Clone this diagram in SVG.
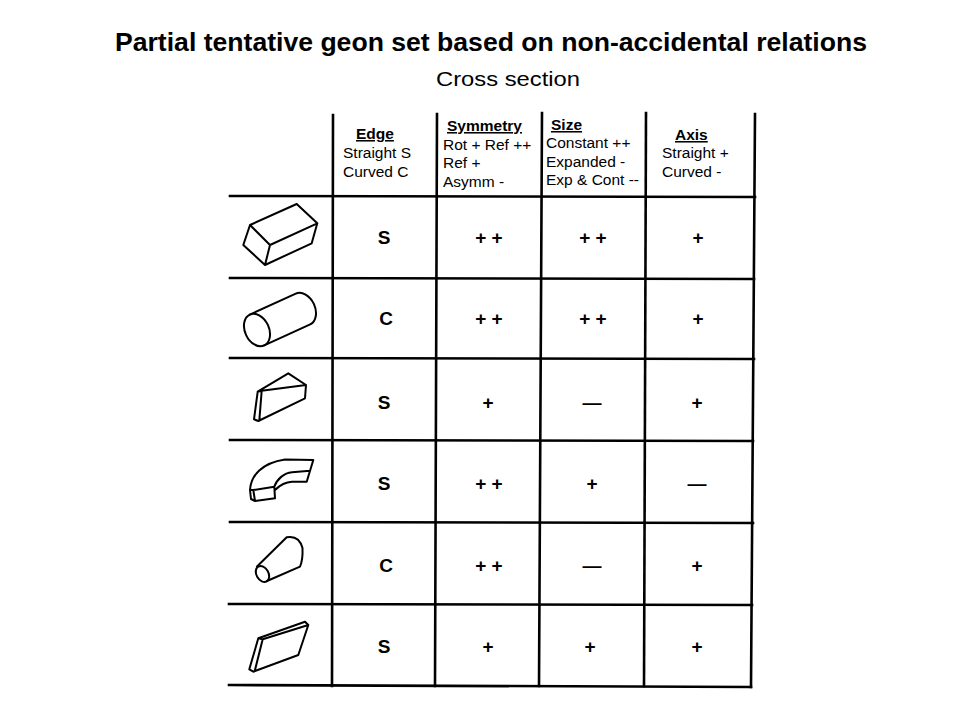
<svg xmlns="http://www.w3.org/2000/svg" width="960" height="720" viewBox="0 0 960 720">
<style>
.t{font-family:"Liberation Sans",Arial,sans-serif;fill:#000}
.h{font-size:15.5px}
.hb{font-size:15.5px;font-weight:bold;text-decoration:underline}
.c{font-size:19px;font-weight:bold;text-anchor:middle}
.g{fill:none;stroke:#000;stroke-width:2.6;stroke-linecap:square}
.s{fill:none;stroke:#000;stroke-width:2;stroke-linejoin:round;stroke-linecap:round}
</style>
<rect width="960" height="720" fill="#fff"/>
<g id="title">
<text class="t" x="115" y="51" font-size="25" font-weight="bold" textLength="752" lengthAdjust="spacingAndGlyphs">Partial tentative geon set based on non-accidental relations</text>
<text class="t" x="436" y="86" font-size="20" textLength="144" lengthAdjust="spacingAndGlyphs">Cross section</text>
</g>
<g id="grid">
<line class="g" x1="333" y1="115" x2="332" y2="686"/>
<line class="g" x1="437" y1="114" x2="435" y2="686"/>
<line class="g" x1="542" y1="113" x2="539" y2="686"/>
<line class="g" x1="646" y1="113" x2="644" y2="686"/>
<line class="g" x1="755" y1="114" x2="751" y2="687"/>
<line class="g" x1="230" y1="196" x2="755" y2="197"/>
<line class="g" x1="230" y1="278" x2="754" y2="279"/>
<line class="g" x1="230" y1="358" x2="754" y2="359"/>
<line class="g" x1="230" y1="440" x2="753" y2="441"/>
<line class="g" x1="230" y1="522" x2="753" y2="523"/>
<line class="g" x1="229" y1="604" x2="752" y2="605"/>
<line class="g" x1="229" y1="685" x2="751" y2="687"/>
</g>
<g id="header-edge">
<text class="t hb" x="356" y="139">Edge</text>
<text class="t h" x="343" y="158">Straight S</text>
<text class="t h" x="343" y="177">Curved C</text>
</g>
<g id="header-symmetry">
<text class="t hb" x="447" y="131">Symmetry</text>
<text class="t h" x="443" y="150">Rot + Ref ++</text>
<text class="t h" x="443" y="168">Ref +</text>
<text class="t h" x="443" y="187">Asymm -</text>
</g>
<g id="header-size">
<text class="t hb" x="551" y="130">Size</text>
<text class="t h" x="546" y="148">Constant ++</text>
<text class="t h" x="546" y="167">Expanded -</text>
<text class="t h" x="546" y="185">Exp &amp; Cont --</text>
</g>
<g id="header-axis">
<text class="t hb" x="675" y="140">Axis</text>
<text class="t h" x="662" y="158">Straight +</text>
<text class="t h" x="662" y="177">Curved -</text>
</g>
<g id="row1">
<path class="s" d="M250,225 L296.7,204 L317.3,223.3 L311.7,243.3 L265,265 L243.3,245 Z M250,225 L270,245 L317.3,223.3 M270,245 L265,265"/>
<text class="t c" x="384" y="244">S</text>
<text class="t c" x="489" y="244">+ +</text>
<text class="t c" x="593" y="244">+ +</text>
<text class="t c" x="698" y="244">+</text>
</g>
<g id="row2">
<ellipse class="s" cx="257" cy="330" rx="12" ry="17" transform="rotate(-25 257 330)"/>
<path class="s" d="M249.8,314.6 L295.8,293.6 A12,17 -25 0 1 310.2,324.4 L264.2,345.4"/>
<text class="t c" x="386" y="325">C</text>
<text class="t c" x="489" y="325">+ +</text>
<text class="t c" x="593" y="325">+ +</text>
<text class="t c" x="698" y="325">+</text>
</g>
<g id="row3">
<path class="s" d="M257.7,391.7 L288.3,373.3 L306,385 L305,398.3 L258.3,421 L254,419.3 Z M257.7,391.7 L261.7,390.7 L306,385 M261.7,390.7 L259.3,420.7"/>
<text class="t c" x="384" y="409">S</text>
<text class="t c" x="488" y="409">+</text>
<text class="t c" x="592" y="409">—</text>
<text class="t c" x="697" y="409">+</text>
</g>
<g id="row4">
<path class="s" d="M255,501 L251,499 L250,490 C251,475 262,463 285,459.5 L313.3,460 L306.7,481.7 L292,481.7 C285,482 278,487 275,490 M253.3,490 L274.3,486.7 L275,498.3 L255,501 Z M274.3,486.7 C277,479 284,473 292,472.3 L310,470.7 M250,490 L253.3,490"/>
<text class="t c" x="384" y="490">S</text>
<text class="t c" x="489" y="490">+ +</text>
<text class="t c" x="592" y="490">+</text>
<text class="t c" x="697" y="490">—</text>
</g>
<g id="row5">
<ellipse class="s" cx="262.5" cy="574" rx="6" ry="8.5" transform="rotate(-30 262.5 574)"/>
<path class="s" d="M257,566.5 L286.7,537.3 Q299,535 302.5,548 Q303,560 300,566.7 L267,581"/>
<text class="t c" x="386" y="572">C</text>
<text class="t c" x="489" y="572">+ +</text>
<text class="t c" x="592" y="572">—</text>
<text class="t c" x="697" y="572">+</text>
</g>
<g id="row6">
<path class="s" d="M258.3,638.3 L305,621.7 L308.3,625 L298.3,655 L253.3,671.7 L249.3,669.3 Z M258.3,638.3 L262.7,639.3 L308.3,625 M262.7,639.3 L255,670"/>
<text class="t c" x="384" y="653">S</text>
<text class="t c" x="488" y="653">+</text>
<text class="t c" x="590" y="653">+</text>
<text class="t c" x="697" y="653">+</text>
</g>
</svg>
